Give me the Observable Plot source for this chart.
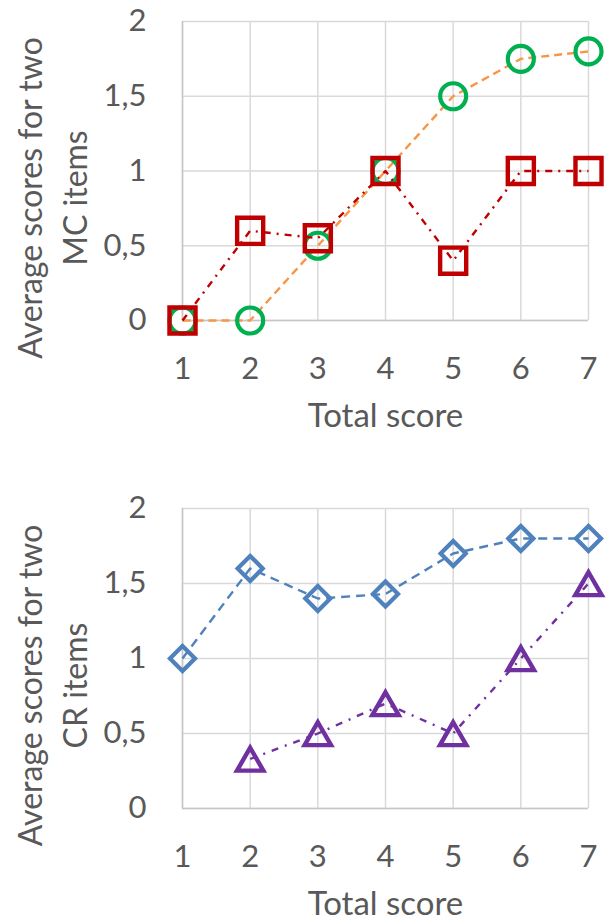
<!DOCTYPE html>
<html><head><meta charset="utf-8">
<script src="https://cdn.jsdelivr.net/npm/d3@7"></script>
<script src="https://cdn.jsdelivr.net/npm/@observablehq/plot@0.6"></script>
<style>body{margin:0;background:#fff;} svg{display:block;}</style>
</head><body><div id="c"></div>
<script>
const totalScore = [1, 2, 3, 4, 5, 6, 7];
const yTicks = [0, 0.5, 1, 1.5, 2];
const mcCircle = [0, 0, 0.5, 1, 1.5, 1.75, 1.8];
const mcSquare = [0, 0.6, 0.55, 1, 0.4, 1, 1];
const crDiamond = [1, 1.6, 1.4, 1.43, 1.7, 1.8, 1.8];
const crTriangle = [null, 0.33, 0.5, 0.7, 0.5, 1, 1.5];
const xLabel = "Total score";
const yLabelMC = "Average scores for two\nMC items";
const yLabelCR = "Average scores for two\nCR items";

const textColor = "#595959";
const font = "Lato";

function panel({height, marginTop, marginBottom, yLabel, series}) {
  const marks = [
    Plot.gridX(totalScore, {stroke: "#d9d9d9", strokeOpacity: 1, strokeWidth: 1.5}),
    Plot.gridY(yTicks, {stroke: "#d9d9d9", strokeOpacity: 1, strokeWidth: 1.5}),
    Plot.ruleX([1], {stroke: "#c6c6c6", strokeWidth: 1.5}),
    Plot.ruleY([0], {stroke: "#c6c6c6", strokeWidth: 1.5}),
    Plot.axisY({ticks: yTicks, tickSize: 0, tickPadding: 36, tickFormat: d => String(d).replace(".", ","), label: null, fontSize: 31, fill: textColor}),
    Plot.axisX({ticks: totalScore, tickSize: 0, tickPadding: 36, tickFormat: d => String(d), label: null, fontSize: 31, fill: textColor}),
    Plot.text([xLabel], {frameAnchor: "bottom", dy: 96, fontSize: 33, fill: textColor, lineAnchor: "middle"}),
    Plot.text([yLabel], {frameAnchor: "left", dx: -132, dy: 27, rotate: -90, fontSize: 32, lineHeight: 1.4, fill: textColor, textAnchor: "middle", lineAnchor: "middle"})
  ];
  for (const s of series) {
    marks.push(Plot.line(s.values, {x: totalScore, y: s.values, stroke: s.lineColor, strokeWidth: 2.4, strokeDasharray: s.dash, strokeLinecap: "butt", defined: (d) => d != null}));
    marks.push(Plot.dot(s.values, {x: totalScore, y: s.values, symbol: s.symbol, r: s.r, dy: s.dy || 0, stroke: s.markerColor, strokeWidth: s.sw, fill: "none", strokeLinejoin: "miter", filter: d => d != null}));
  }
  return Plot.plot({
    width: 608, height, marginLeft: 182, marginRight: 20, marginTop, marginBottom,
    x: {domain: [1, 7]},
    y: {domain: [0, 2]},
    style: {fontFamily: font, color: textColor, background: "white", overflow: "visible"},
    marks
  });
}

const topPanel = panel({
  height: 460, marginTop: 21, marginBottom: 140, yLabel: yLabelMC,
  series: [
    {values: mcCircle, lineColor: "#F79646", dash: "8 5", symbol: "circle", r: 13, sw: 4.2, markerColor: "#00B050"},
    {values: mcSquare, lineColor: "#C00000", dash: "7 6 2 6", symbol: "square", r: 14.7, sw: 4.4, markerColor: "#C00000"}
  ]
});
const bottomPanel = panel({
  height: 461, marginTop: 48, marginBottom: 113, yLabel: yLabelCR,
  series: [
    {values: crDiamond, lineColor: "#4F81BD", dash: "9 6", symbol: "diamond2", r: 11.3, sw: 4.2, markerColor: "#4F81BD"},
    {values: crTriangle, lineColor: "#7030A0", dash: "7 7 2 7", symbol: "triangle", r: 9.8, sw: 4.4, dy: 4, markerColor: "#7030A0"}
  ]
});
document.getElementById("c").append(topPanel, bottomPanel);
</script></body></html>
